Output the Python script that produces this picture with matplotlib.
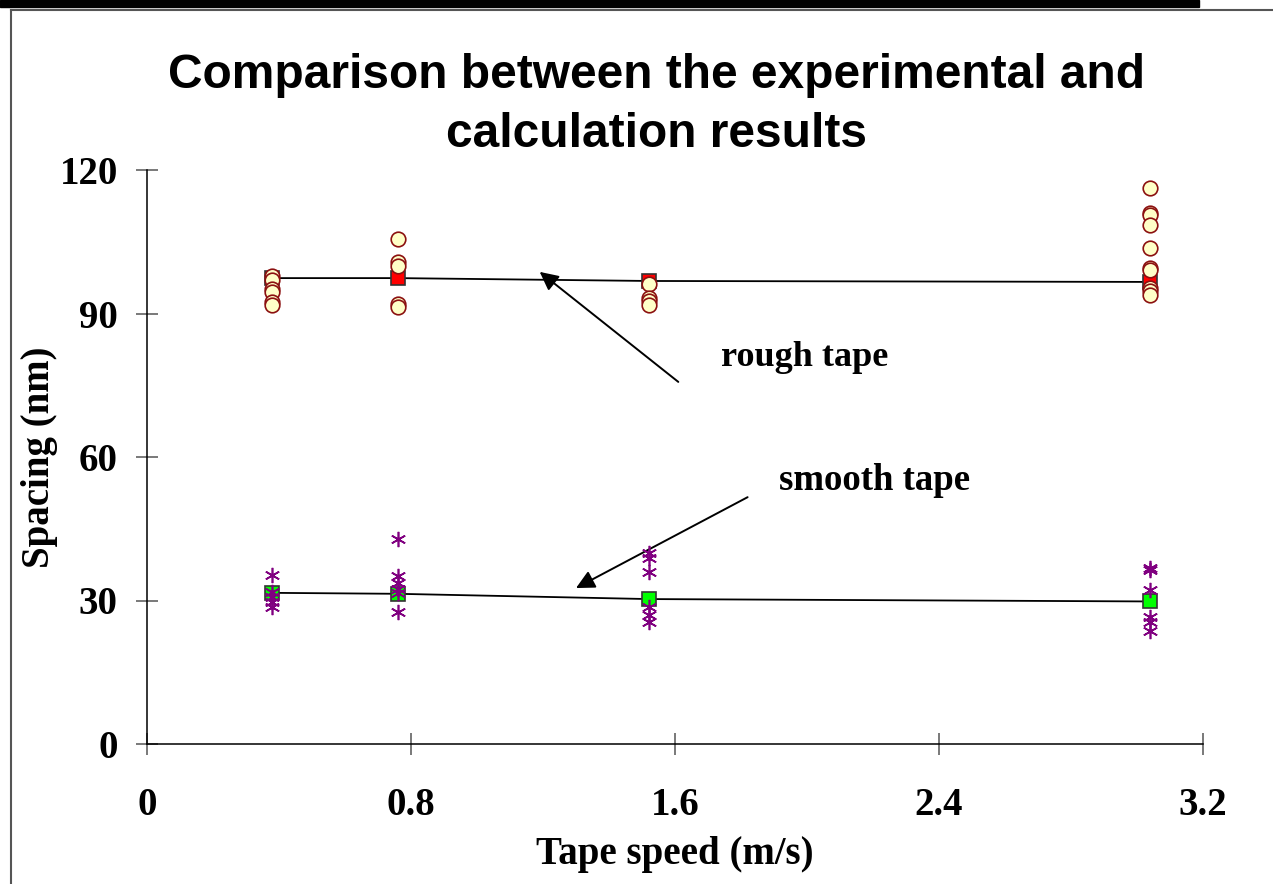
"""Spacing vs tape speed: measured scatter against calculated curves."""

import matplotlib

matplotlib.use("Agg")
import matplotlib.pyplot as plt  # noqa: E402
from matplotlib.lines import Line2D  # noqa: E402
from matplotlib.patches import Rectangle  # noqa: E402

speed = [0.38, 0.76, 1.52, 3.04]

# calculated spacing (nm)
rough_calc = [97.4, 97.4, 96.8, 96.6]
smooth_calc = [31.6, 31.4, 30.3, 29.8]

# measured spacing (nm), one list per tape speed
rough_meas = [
    [97.8, 97.0, 95.1, 94.5, 92.4, 91.7],
    [105.6, 100.8, 99.9, 92.0, 91.4],
    [96.1, 93.2, 92.7, 91.8],
    [116.2, 111.1, 110.6, 108.5, 103.6, 99.5, 99.1, 95.3, 94.6, 93.9],
]
smooth_meas = [
    [35.3, 31.8, 30.8, 29.7, 28.6],
    [42.9, 35.1, 33.6, 32.5, 31.5, 27.7],
    [39.9, 38.8, 36.0, 28.7, 27.0, 25.6],
    [36.7, 36.4, 32.1, 26.6, 25.6, 23.6],
]

x_ticks = [0, 0.8, 1.6, 2.4, 3.2]
y_ticks = [0, 30, 60, 90, 120]

SERIF = "Liberation Serif"
SANS = "Liberation Sans"


def flatten(xs, groups):
    px, py = [], []
    for x, g in zip(xs, groups):
        px += [x] * len(g)
        py += g
    return px, py


W, H = 1273, 884
fig = plt.figure(figsize=(W / 100, H / 100), dpi=100)
ax = fig.add_axes([147 / W, 1 - 744 / H, 1056 / W, 574 / H])

# page decoration: black strip on top, grey frame
fig.patches.append(Rectangle((0, 1 - 7 / H), 1199 / W, 7 / H,
                             transform=fig.transFigure, color="black"))
fig.lines.append(Line2D([11 / W, 1], [1 - 10 / H] * 2, transform=fig.transFigure,
                        color="#555555", lw=1.5))
fig.lines.append(Line2D([11 / W] * 2, [0, 1 - 10 / H], transform=fig.transFigure,
                        color="#555555", lw=1.5))

ax.plot(speed, rough_calc, color="black", lw=1.3, zorder=2)
ax.plot(speed, smooth_calc, color="black", lw=1.3, zorder=2)
ax.plot(speed, rough_calc, ls="none", marker="s", ms=10, mfc="#ff0000",
        mec="#333333", mew=1.2, zorder=3)
ax.plot(speed, smooth_calc, ls="none", marker="s", ms=10, mfc="#00ff00",
        mec="#333333", mew=1.2, zorder=3)

rx, ry = flatten(speed, rough_meas)
ax.plot(rx, ry, ls="none", marker="o", ms=10.5, mfc="#ffffc8",
        mec="#8b1010", mew=1.2, zorder=4)
sx, sy = flatten(speed, smooth_meas)
ax.plot(sx, sy, ls="none", marker=(6, 2, 0), ms=11, mec="#800080",
        mew=1.2, zorder=4)

arrow = dict(arrowstyle="-|>", color="black", lw=1.4, mutation_scale=28,
             shrinkA=0, shrinkB=0)
ax.annotate("", xy=(1.19, 98.7), xytext=(1.61, 75.7), arrowprops=arrow)
ax.annotate("", xy=(1.30, 32.6), xytext=(1.82, 51.6), arrowprops=arrow)
ax.text(1.994, 80.9, "rough tape", ha="center", va="center",
        family=SERIF, weight="bold", fontsize=26)
ax.text(2.206, 55.0, "smooth tape", ha="center", va="center",
        family=SERIF, weight="bold", fontsize=26.5)

ax.set_xlim(0, 3.2)
ax.set_ylim(0, 120)
ax.set_xticks(x_ticks)
ax.set_xticklabels([f"{t:g}" for t in x_ticks])
ax.set_yticks(y_ticks)
for s in ("top", "right"):
    ax.spines[s].set_visible(False)
for s in ("left", "bottom"):
    ax.spines[s].set_linewidth(1.1)
ax.tick_params(direction="inout", length=16, width=1.1, color="#555555",
               labelsize=28)
ax.tick_params(axis="x", pad=23)
ax.tick_params(axis="y", pad=13)
for lab in ax.get_xticklabels() + ax.get_yticklabels():
    lab.set_family(SERIF)
    lab.set_weight("bold")

ax.set_xlabel("Tape speed (m/s)", family=SERIF, weight="bold", fontsize=28)
ax.set_ylabel("Spacing (nm)", family=SERIF, weight="bold", fontsize=28)
ax.xaxis.set_label_coords(0.5, (744 - 836) / 574)
ax.yaxis.set_label_coords((58 - 147) / 1056, 0.5)

fig.text(657 / W, 1 - 88 / H, "Comparison between the experimental and",
         ha="center", va="baseline", family=SANS, weight="bold", fontsize=34.5)
fig.text(657 / W, 1 - 147 / H, "calculation results",
         ha="center", va="baseline", family=SANS, weight="bold", fontsize=34.5)

fig.savefig("out.png", dpi=100)
plt.close(fig)
